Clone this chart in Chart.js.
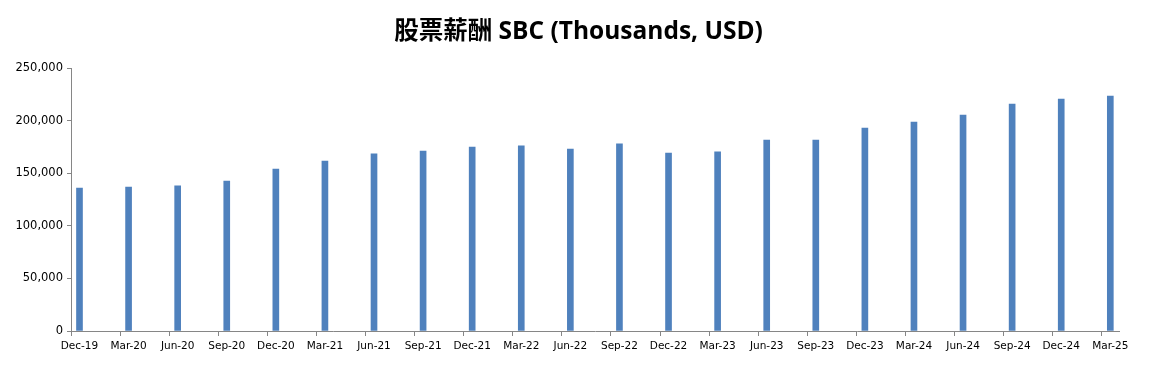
<!DOCTYPE html>
<html>
<head>
<meta charset="utf-8">
<script src="https://cdn.jsdelivr.net/npm/chart.js@4/dist/chart.umd.min.js"></script>
<style>
  body { margin: 0; background: #fff; }
  #wrap { width: 1157px; height: 367px; }
</style>
</head>
<body>
<div id="wrap"><canvas id="sbcChart" width="1157" height="367"></canvas></div>
<script>
// Quartale (Achsenbeschriftung)
var quarters = ["Dec-19", "Mar-20", "Jun-20", "Sep-20", "Dec-20", "Mar-21", "Jun-21", "Sep-21",
  "Dec-21", "Mar-22", "Jun-22", "Sep-22", "Dec-22", "Mar-23", "Jun-23", "Sep-23",
  "Dec-23", "Mar-24", "Jun-24", "Sep-24", "Dec-24", "Mar-25"];

// SBC in Tausend USD
var sbcValues = [135900, 136900, 137900, 142600, 154000, 161600, 168300, 171100,
  174900, 175900, 173000, 177800, 169200, 170200, 181600, 181600,
  193000, 198700, 205300, 215800, 220500, 223400];

// Y-Achse
var yTicks = [0, 50000, 100000, 150000, 200000, 250000];

var axisGrey = "#868686";

document.addEventListener("DOMContentLoaded", function () {
  var points = sbcValues.map(function (v, i) { return { x: i, y: v }; });

  var ctx = document.getElementById("sbcChart").getContext("2d");
  new Chart(ctx, {
    type: "bar",
    data: {
      datasets: [{
        label: "SBC",
        data: points,
        backgroundColor: "#4F81BD",
        barThickness: 6
      }]
    },
    options: {
      responsive: false,
      animation: false,
      layout: { padding: 0 },
      plugins: {
        legend: { display: false },
        tooltip: { enabled: false },
        title: {
          display: true,
          text: "股票薪酬 SBC (Thousands, USD)",
          color: "#000",
          font: { family: "'Open Sans', 'Noto Sans CJK TC', sans-serif", size: 24.5, weight: "bold", lineHeight: 1.2 },
          padding: { top: 17, bottom: 21.6 }
        }
      },
      scales: {
        x: {
          type: "linear",
          offset: false,
          min: -0.173,
          max: 21.177,
          afterBuildTicks: function (scale) {
            // Teilstriche liegen jeweils kurz vor dem Balken
            scale.ticks = quarters.map(function (q, i) { return { value: i - 0.173 }; });
          },
          afterFit: function (scale) { scale.height = 36; },
          grid: { offset: false, drawOnChartArea: false, drawTicks: true, tickLength: 5, color: axisGrey },
          border: { display: true, color: axisGrey, width: 1 },
          ticks: {
            autoSkip: false,
            maxRotation: 0,
            labelOffset: 8.5,
            padding: 4,
            color: "#000",
            font: { family: "'DejaVu Sans', sans-serif", size: 10.5 },
            callback: function (value, index) { return quarters[index]; }
          }
        },
        y: {
          min: 0,
          max: 250000,
          afterBuildTicks: function (scale) {
            scale.ticks = yTicks.map(function (v) { return { value: v }; });
          },
          afterFit: function (scale) { scale.width = 71; },
          grid: { drawOnChartArea: false, drawTicks: true, tickLength: 4, color: axisGrey },
          border: { display: true, color: axisGrey, width: 1 },
          ticks: {
            padding: 4,
            color: "#000",
            font: { family: "'DejaVu Sans', sans-serif", size: 11.5 },
            callback: function (v) { return v.toLocaleString("en-US"); }
          }
        },
        // leere rechte Achse als Rand, damit der Titel mittig über der ganzen Fläche steht
        yr: {
          position: "right",
          min: 0,
          max: 1,
          afterFit: function (scale) { scale.width = 38; },
          grid: { display: false },
          border: { display: false },
          ticks: { display: false }
        }
      }
    }
  });
});
</script>
</body>
</html>
